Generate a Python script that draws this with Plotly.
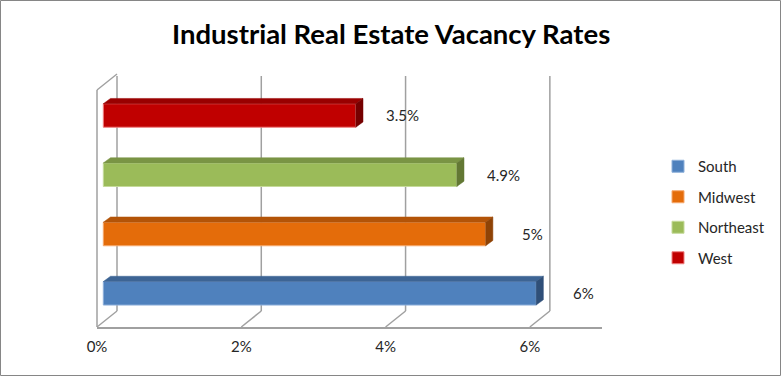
import plotly.graph_objects as go

# ---------------- data ----------------
categories = ["South", "Midwest", "Northeast", "West"]
values = [6.0, 5.3, 4.9, 3.5]
value_labels = ["6%", "5%", "4.9%", "3.5%"]
tick_values = [0, 2, 4, 6]
tick_labels = ["0%", "2%", "4%", "6%"]
axis_max = 7
title_text = "Industrial Real Estate Vacancy Rates"

# ---------------- styles ----------------
front_colors = ["#4F81BD", "#E46C0A", "#9BBB59", "#C00000"]
top_colors = ["#3D6494", "#B35408", "#7A9444", "#990000"]
side_colors = ["#2F4F78", "#8F4306", "#637834", "#760000"]
edge_colors = ["#8EB0DA", "#F6A86C", "#C5DA9A", "#F08080"]
grid_color = "#A0A0A0"
FONT = "Lato"

W, H = 781, 376
FRONT_X0, FRONT_X1 = 97, 602       # front floor line (0% .. axis_max)
FLOOR_Y = 327
BACK_DX, BACK_DY = 20, -16          # depth of the 3D box
BACK_TOP = 76
WALL_FRONT_TOP = 90
BAR_DX = 6.3                        # bar front plane offset from front plane
BAR_DEPTH_DX, BAR_DEPTH_DY = 7.2, 5.3
CAT_PX0, CAT_STEP = 293.3, 59.27    # pixel centre of first category, spacing
BAR_THICK_PX = 23.5
PLOT_TOP = 60
LABEL_DX = 0.65

PPU = (FRONT_X1 - FRONT_X0) / axis_max
bar_w = BAR_THICK_PX / CAT_STEP
ddx = BAR_DEPTH_DX / PPU
ddy = BAR_DEPTH_DY / CAT_STEP
x_off = BAR_DX / PPU                # depth shift of the bar plane, in axis units


def px(p):
    return p / W


def py(p):
    return 1 - p / H


fig = go.Figure()

ys = list(range(len(categories)))
for i, (cat, v) in enumerate(zip(categories, values)):
    fig.add_trace(go.Bar(
        x=[v], y=[ys[i]], base=x_off, orientation="h", width=bar_w,
        name=cat, legendgroup=cat,
        marker=dict(color=front_colors[i], line=dict(color=edge_colors[i], width=1)),
        hoverinfo="skip",
    ))

shapes = []
line_style = dict(color=grid_color, width=1.5)

# back wall gridlines + floor diagonals
for t in tick_values:
    xb = FRONT_X0 + BACK_DX + t * PPU
    xf = FRONT_X0 + t * PPU
    shapes.append(dict(type="line", xref="paper", yref="paper",
                       x0=px(xb), x1=px(xb), y0=py(BACK_TOP), y1=py(FLOOR_Y + BACK_DY),
                       line=line_style, layer="below"))
    shapes.append(dict(type="line", xref="paper", yref="paper",
                       x0=px(xb), x1=px(xf), y0=py(FLOOR_Y + BACK_DY), y1=py(FLOOR_Y),
                       line=line_style, layer="below"))

# left wall front edge and top diagonal
shapes.append(dict(type="line", xref="paper", yref="paper",
                   x0=px(FRONT_X0), x1=px(FRONT_X0), y0=py(WALL_FRONT_TOP), y1=py(FLOOR_Y),
                   line=line_style, layer="below"))
shapes.append(dict(type="line", xref="paper", yref="paper",
                   x0=px(FRONT_X0), x1=px(FRONT_X0 + BACK_DX), y0=py(WALL_FRONT_TOP),
                   y1=py(WALL_FRONT_TOP + BACK_DY),
                   line=line_style, layer="below"))

# 3D faces of bars
for i, v in enumerate(values):
    x0 = x_off
    x1 = x_off + v
    yt = ys[i] + bar_w / 2
    yb = ys[i] - bar_w / 2
    top = f"M {x0},{yt} L {x1},{yt} L {x1+ddx},{yt+ddy} L {x0+ddx},{yt+ddy} Z"
    side = f"M {x1},{yt} L {x1+ddx},{yt+ddy} L {x1+ddx},{yb+ddy} L {x1},{yb} Z"
    shapes.append(dict(type="path", xref="x", yref="y", path=top,
                       fillcolor=top_colors[i], line=dict(color=top_colors[i], width=0.5)))
    shapes.append(dict(type="path", xref="x", yref="y", path=side,
                       fillcolor=side_colors[i], line=dict(color=side_colors[i], width=0.5)))

# chart border
shapes.append(dict(type="rect", xref="paper", yref="paper",
                   x0=0.5 / W, x1=1 - 0.5 / W, y0=0.5 / H, y1=1 - 0.5 / H,
                   line=dict(color="#868686", width=1)))

annotations = []
for i, (v, lab) in enumerate(zip(values, value_labels)):
    annotations.append(dict(x=x_off + v + LABEL_DX, y=ys[i], xref="x", yref="y", text=lab,
                            showarrow=False, xanchor="center", yanchor="middle",
                            font=dict(family=FONT, size=15, color="#262626")))
annotations.append(dict(x=px(390.5), y=py(33.5), xref="paper", yref="paper",
                        text=f"<b>{title_text}</b>", showarrow=False,
                        xanchor="center", yanchor="middle",
                        font=dict(family=FONT, size=27.5, color="#000000")))

fig.update_layout(
    width=W, height=H, autosize=False,
    margin=dict(l=0, r=0, t=0, b=0, autoexpand=False),
    paper_bgcolor="white", plot_bgcolor="rgba(0,0,0,0)",
    barmode="overlay",
    xaxis=dict(domain=[px(FRONT_X0), px(FRONT_X1)], range=[0, axis_max],
               tickvals=tick_values, ticktext=tick_labels, showgrid=False,
               zeroline=False, showline=True, linecolor=grid_color, linewidth=1.5,
               ticks="", ticklabelstandoff=5, fixedrange=True,
               tickfont=dict(family=FONT, size=15, color="#262626")),
    yaxis=dict(domain=[py(FLOOR_Y), py(PLOT_TOP)],
               range=[(CAT_PX0 - FLOOR_Y) / CAT_STEP, (CAT_PX0 - PLOT_TOP) / CAT_STEP],
               visible=False, fixedrange=True),
    showlegend=True,
    legend=dict(x=px(658), y=py(150), xanchor="left", yanchor="top",
                traceorder="grouped", tracegroupgap=8,
                font=dict(family=FONT, size=15, color="#262626"),
                bgcolor="rgba(0,0,0,0)"),
    shapes=shapes,
    annotations=annotations,
)

post = (
    "document.documentElement.style.margin='0';"
    "document.documentElement.style.padding='0';"
    "document.body.style.margin='0';"
    "document.body.style.padding='0';"
    "document.body.style.overflow='hidden';"
    "var d=document.getElementById('{plot_id}');"
    "d.style.position='fixed';d.style.left='0px';d.style.top='0px';"
)
fig.write_html("out.html", config={"displayModeBar": False}, post_script=post)
